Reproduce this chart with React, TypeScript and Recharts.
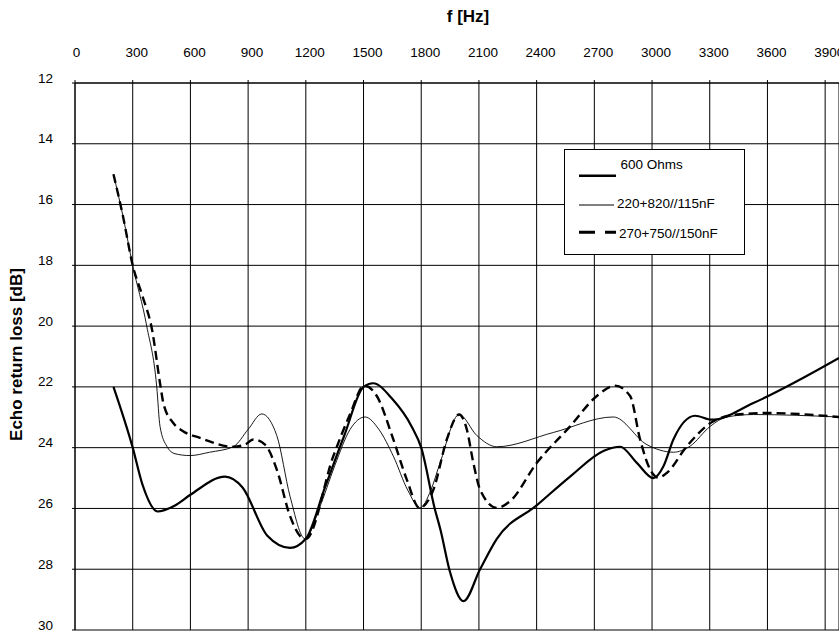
import React from "react";
import { LineChart, Line, XAxis, YAxis, CartesianGrid, Legend } from "recharts";

const FONT = '"Liberation Sans", Arial, sans-serif';

const freqTicks = [0, 300, 600, 900, 1200, 1500, 1800, 2100, 2400, 2700, 3000, 3300, 3600, 3900];
const lossTicks = [12, 14, 16, 18, 20, 22, 24, 26, 28, 30];

// 600 Ohms
const freq600 = [200, 300, 350, 430, 520, 600, 780, 870, 1000, 1118, 1200, 1300, 1400, 1500, 1550, 1650, 1750, 1800, 1870, 1900, 1950, 2020, 2106, 2193, 2400, 2574, 2750, 2834, 2921, 3007, 3060, 3111, 3224, 3311, 3527, 3972];
const loss600 = [22.0, 24.0, 25.2, 26.1, 25.9, 25.55, 24.95, 25.3, 26.9, 27.3, 27.0, 25.3, 23.6, 22.0, 21.88, 22.4, 23.3, 24.0, 26.0, 26.7, 28.1, 29.05, 28.0, 27.0, 25.9, 24.95, 24.1, 23.97, 24.5, 25.0, 24.6, 23.73, 22.95, 23.08, 22.53, 21.05];

// 220+820//115nF
const freq220 = [200, 250, 300, 373, 425, 442, 477, 520, 598, 700, 823, 900, 971, 1049, 1118, 1196, 1270, 1350, 1430, 1508, 1580, 1655, 1730, 1794, 1850, 1898, 1997, 2089, 2193, 2487, 2799, 2973, 3111, 3198, 3302, 3389, 3527, 3972];
const loss220 = [15.0, 16.4, 18.0, 20.0, 22.0, 23.3, 23.95, 24.2, 24.26, 24.15, 23.97, 23.4, 22.89, 23.6, 25.6, 27.0, 26.0, 24.6, 23.4, 22.99, 23.4, 24.28, 25.4, 25.98, 25.4, 24.5, 22.91, 23.6, 23.97, 23.5, 22.99, 23.9, 24.15, 23.95, 23.3, 22.99, 22.91, 22.99];

// 270+750//150nF
const freq270 = [200, 250, 300, 350, 400, 445, 460, 511, 560, 650, 823, 884, 927, 988, 1049, 1118, 1179, 1200, 1343, 1430, 1503, 1569, 1655, 1725, 1791, 1864, 1933, 1997, 2037, 2071, 2106, 2193, 2262, 2401, 2574, 2713, 2808, 2886, 2938, 2990, 3033, 3077, 3181, 3319, 3441, 3597, 3972];
const loss270 = [15.0, 16.4, 18.0, 19.0, 20.1, 22.0, 22.55, 23.19, 23.45, 23.68, 23.97, 23.9, 23.73, 23.9, 24.72, 26.25, 26.96, 27.0, 24.28, 22.9, 21.96, 22.3, 23.73, 25.05, 25.98, 25.37, 23.73, 22.91, 23.4, 24.5, 25.38, 25.98, 25.76, 24.5, 23.3, 22.3, 21.96, 22.3, 23.73, 24.72, 24.99, 24.83, 23.95, 23.13, 22.91, 22.86, 22.99];

const toPoints = (f: number[], v: number[]) => f.map((x, i) => ({ f: x, loss: v[i] }));

const series = [
  { name: "600 Ohms", data: toPoints(freq600, loss600), width: 2.2, dash: undefined as string | undefined, legendWidth: 2.6, legendDash: undefined as string | undefined },
  { name: "220+820//115nF", data: toPoints(freq220, loss220), width: 0.9, dash: undefined, legendWidth: 1, legendDash: undefined },
  { name: "270+750//150nF", data: toPoints(freq270, loss270), width: 2.4, dash: "9 5", legendWidth: 3, legendDash: "16 10" },
];

function FreqTick({ x, y, payload }: any) {
  // labels in the original sit a few px right of their grid line
  const shift = payload.value === 0 ? 1.5 : 4;
  return (
    <text x={x + shift} y={y} textAnchor="middle" fontSize={13.5} fontFamily={FONT} fill="#000">
      {payload.value}
    </text>
  );
}

function LossTick({ x, y, payload }: any) {
  return (
    <text x={x} y={y - 0.5} textAnchor="end" fontSize={13.5} fontFamily={FONT} fill="#000">
      {payload.value}
    </text>
  );
}

function FreqTitle({ viewBox }: any) {
  return (
    <text x={viewBox.x + viewBox.width / 2 + 11} y={21.5} textAnchor="middle" fontSize={17} fontWeight="bold" fontFamily={FONT} fill="#000">
      f [Hz]
    </text>
  );
}

function LossTitle({ viewBox }: any) {
  const cx = 22;
  const cy = viewBox.y + viewBox.height / 2 - 2;
  return (
    <text x={cx} y={cy} transform={`rotate(-90, ${cx}, ${cy})`} textAnchor="middle" fontSize={17} fontWeight="bold" fontFamily={FONT} fill="#000">
      Echo return loss [dB]
    </text>
  );
}

// legend rows: y of sample line, end of sample line, baseline of text, x where text starts
const legendRows = [
  { lineY: 26.7, x2: 51, textY: 20, textX: 56.5 },
  { lineY: 56, x2: 49, textY: 59, textX: 53 },
  { lineY: 83.3, x2: 51, textY: 89, textX: 55 },
];

function LegendBox() {
  return (
    <div style={{ width: 181, height: 106, boxSizing: "border-box", border: "1px solid #000", background: "#fff" }}>
      <svg width={179} height={104} style={{ display: "block" }}>
        {series.map((s, i) => {
          const r = legendRows[i];
          return (
            <g key={s.name}>
              <line x1={14} x2={r.x2} y1={r.lineY - 1} y2={r.lineY - 1} stroke="#000" strokeWidth={s.legendWidth} strokeDasharray={s.legendDash} />
              <text x={r.textX - 1} y={r.textY - 1} fontSize={13.5} fontFamily={FONT} fill="#000">
                {s.name}
              </text>
            </g>
          );
        })}
      </svg>
    </div>
  );
}

export default function App() {
  return (
    <div style={{ position: "absolute", left: 0, top: 0, width: 839, height: 631, overflow: "hidden", background: "#fff" }}>
      <LineChart width={839} height={631} margin={{ top: 0, right: 0, left: 0, bottom: 1 }}>
        <CartesianGrid stroke="#000" strokeWidth={1} />
        <XAxis
          type="number"
          dataKey="f"
          orientation="top"
          domain={[0, 3972]}
          ticks={freqTicks}
          interval={0}
          height={83}
          tickSize={3}
          tickMargin={23.5}
          tick={<FreqTick />}
          tickLine={{ stroke: "#000" }}
          axisLine={{ stroke: "#000" }}
          allowDataOverflow
          label={<FreqTitle />}
        />
        <YAxis
          type="number"
          dataKey="loss"
          reversed
          domain={[12, 30]}
          ticks={lossTicks}
          interval={0}
          width={75}
          tickSize={3}
          tickMargin={19}
          tick={<LossTick />}
          tickLine={{ stroke: "#000" }}
          axisLine={{ stroke: "#000" }}
          allowDataOverflow
          label={<LossTitle />}
        />
        <Legend
          layout="vertical"
          align="center"
          verticalAlign="middle"
          content={<LegendBox />}
          wrapperStyle={{ left: 564, top: 149, width: 181, height: 106 }}
        />
        {series.map((s) => (
          <Line
            key={s.name}
            data={s.data}
            dataKey="loss"
            name={s.name}
            type="monotone"
            stroke="#000"
            strokeWidth={s.width}
            strokeDasharray={s.dash}
            dot={false}
            activeDot={false}
            isAnimationActive={false}
          />
        ))}
      </LineChart>
    </div>
  );
}
